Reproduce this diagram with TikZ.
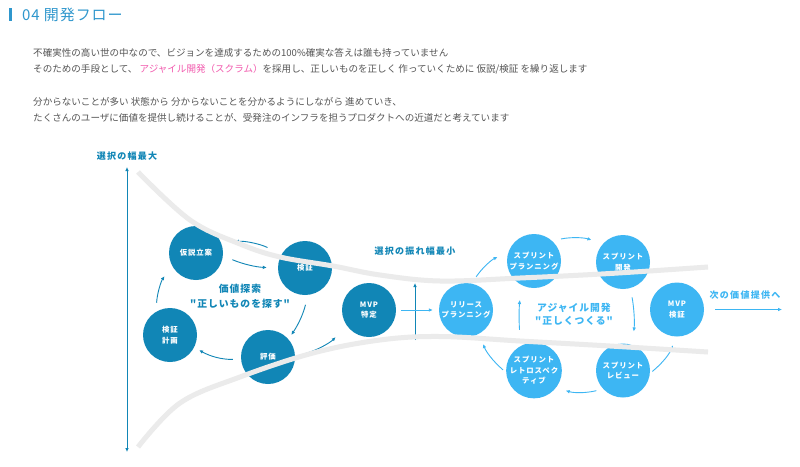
\documentclass[tikz,border=0pt]{standalone}
\usepackage{fontspec}
\setmainfont{Noto Sans CJK JP}[Ligatures=TeXOff]
\usetikzlibrary{arrows.meta}
\definecolor{devdark}{HTML}{1186B6}
\definecolor{devlight}{HTML}{3DB6F3}
\definecolor{devtitle}{HTML}{2F97CD}
\definecolor{devtext}{HTML}{555555}
\definecolor{devpink}{HTML}{F25AAE}
\definecolor{devfunnel}{HTML}{EBEBEB}
\begin{document}
\begin{tikzpicture}[x=1pt, y=1pt,
  darkdot/.style={circle, fill=devdark, minimum size=54pt, inner sep=0pt, text=white, align=center,
                  font=\bfseries\fontsize{7.4}{10.5}\selectfont\addfontfeatures{LetterSpace=12}},
  lightdot/.style={darkdot, fill=devlight},
  intro/.style={anchor=base west, inner sep=0pt, text=devtext, font=\fontsize{9.55}{16}\selectfont},
  axlab/.style={inner sep=0pt, text=devdark, font=\bfseries\fontsize{9}{11}\selectfont\addfontfeatures{LetterSpace=14}},
  cyclab/.style={inner sep=0pt, align=center, text=devdark,
                 font=\bfseries\fontsize{9.8}{15}\selectfont\addfontfeatures{LetterSpace=10}},
  arrd/.style={-{Latex[length=4pt,width=3.6pt]}, line width=0.9pt, draw=devdark},
  arrl/.style={arrd, draw=devlight},
  funnel/.style={line width=5pt, draw=devfunnel},
]
\useasboundingbox[fill=white] (0,0) rectangle (800,-466);

\fill[devtitle] (9.3,-7.5) rectangle (11.6,-21);
\node[anchor=base west, inner sep=0pt, text=devtitle, font=\fontsize{15}{18}\selectfont\addfontfeatures{LetterSpace=6}] (title) at (22,-20.7) {04 開発フロー};

\node[intro] (intro1) at (33,-56.9) {不確実性の高い世の中なので、ビジョンを達成するための100\%確実な答えは誰も持っていません};
\node[intro] (intro2) at (33,-72.9) {そのための手段として、 {\color{devpink}アジャイル開発（スクラム）}を採用し、正しいものを正しく 作っていくために 仮説/検証 を繰り返します};
\node[intro] (intro3) at (33,-105.6) {分からないことが多い 状態から 分からないことを分かるようにしながら 進めていき、};
\node[intro] (intro4) at (33,-121.6) {たくさんのユーザに価値を提供し続けることが、受発注のインフラを担うプロダクトへの近道だと考えています};

\node[axlab] (widemax) at (127,-156) {選択の幅最大};
\coordinate (maxtop) at (127,-167);
\coordinate (maxbot) at (127,-452);
\draw[arrd, {Latex[length=4pt,width=3.6pt]}-{Latex[length=4pt,width=3.6pt]}] (maxtop) -- (maxbot);

\node[darkdot] (kasetsu) at (196,-253) {仮説立案};
\node[darkdot] (kenshou) at (305,-268) {検証};
\node[darkdot] (keikaku) at (170,-335) {検証\\計画};
\node[darkdot] (hyouka)  at (268,-357) {評価};
\node[darkdot] (mvpdef)  at (369,-310) {MVP\\特定};
\node[cyclab]  (explore) at (240,-296) {価値探索\\"正しいものを探す"};

\node[lightdot] (release)  at (466,-310) {リリース\\プランニング};
\node[lightdot] (spplan)   at (534,-261) {スプリント\\プランニング};
\node[lightdot] (spdev)    at (623,-262) {スプリント\\開発};
\node[lightdot] (mvpval)   at (677,-309.5) {MVP\\検証};
\node[lightdot] (spreview) at (623,-370.5) {スプリント\\レビュー};
\node[lightdot] (spretro)  at (534,-370.5) {スプリント\\レトロスペク\\ティブ};
\node[cyclab, text=devlight, font=\bfseries\fontsize{9.8}{12.5}\selectfont\addfontfeatures{LetterSpace=10}] (agile) at (574,-314.5) {アジャイル開発\\"正しくつくる"};

\node[axlab] (narrowmin) at (415,-251) {選択の振れ幅最小};
\coordinate (narrowlo) at (415,-340);
\coordinate (narrowhi) at (415,-283);
\draw[arrd] (narrowlo) -- (narrowhi);

\node[axlab, text=devlight] (nextval) at (745,-295) {次の価値提供へ};
\coordinate (nextend) at (782,-309.5);

\draw[arrd, shorten <=15.5pt, shorten >=14pt] (kenshou.150) to[bend right=15] (kasetsu.23);
\draw[arrd, shorten <=10pt, shorten >=11pt] (kasetsu.-6) to[bend right=10] (kenshou.180);
\draw[arrd, shorten <=10pt, shorten >=5pt] (kenshou.-84) to[bend left=10] (hyouka.41);
\draw[arrd, shorten <=8pt, shorten >=5.6pt] (hyouka.185) to[bend left=15] (keikaku.-27);
\draw[arrd, shorten <=9pt, shorten >=13pt] (keikaku.121) to[bend left=15] (kasetsu.207);
\draw[arrd, shorten <=10pt, shorten >=16pt] (hyouka.1.5) to[bend right=15] (mvpdef.215);
\draw[arrl, shorten <=5pt, shorten >=6pt] (mvpdef.east) -- (release.west);

\draw[arrl, shorten <=8pt, shorten >=12pt] (release.78) to[bend left=15] (spplan.160);
\draw[arrl, shorten <=9pt, shorten >=12pt] (spplan.48) to[bend left=15] (spdev.138);
\draw[arrl, shorten <=9.4pt, shorten >=13.5pt] (spdev.-74) to[bend left=8] (spreview.70);
\draw[arrl, shorten <=3pt, shorten >=9pt] (spreview.-6) to[bend right=15] (mvpval.-92);
\draw[arrl, shorten <=7pt, shorten >=10pt] (spreview.223) to[bend left=15] (spretro.-38);
\draw[arrl, shorten <=4pt, shorten >=11pt] (spretro.184) to[bend left=15] (release.-60);
\draw[arrl, shorten <=16pt, shorten >=15pt] (spretro.118) to[bend left=5] (spplan.242);
\draw[arrl, shorten <=11pt] (mvpval.east) -- (nextend);

\draw[funnel] plot[smooth, tension=0.6] coordinates {(138,-172) (190,-220) (240,-244) (280,-257) (333,-266) (380,-275) (440,-281) (520,-278) (610,-273.5) (708,-267)};
\draw[funnel] plot[smooth, tension=0.6] coordinates {(138,-447) (180,-403) (240,-377) (313,-353) (380,-340) (440,-336.5) (520,-341) (610,-346) (708,-352)};
\end{tikzpicture}
\end{document}
